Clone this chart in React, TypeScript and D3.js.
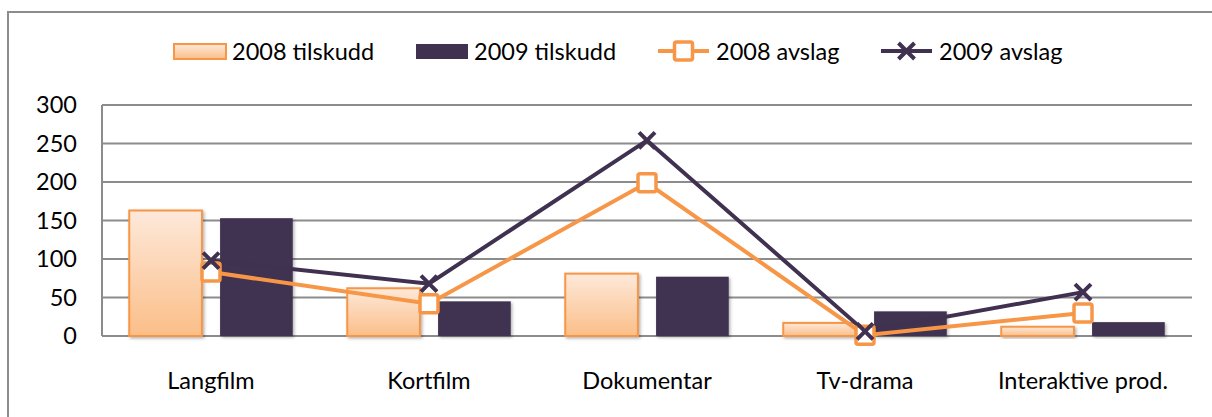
import * as d3 from "d3";

const categories = ["Langfilm", "Kortfilm", "Dokumentar", "Tv-drama", "Interaktive prod."];
const tilskudd2008 = [163, 62, 81, 17, 12];
const tilskudd2009 = [153, 45, 77, 32, 18];
const avslag2008 = [83, 42, 199, 1, 30];
const avslag2009 = [98, 68, 254, 6, 57];
const yTicks = [0, 50, 100, 150, 200, 250, 300];

const orange = "#F79646";
const purple = "#403151";

export default function App() {
  const w = 1212;
  const h = 417;
  const left = 102;
  const right = 1192;
  const top = 105;
  const bottom = 336;

  const x = d3.scaleBand().domain(categories).range([left, right]);
  const inner = d3
    .scaleBand()
    .domain(["a", "b"])
    .range([0, x.bandwidth()])
    .paddingInner(0.2)
    .paddingOuter(0.3);
  const y = d3.scaleLinear().domain([0, 300]).range([bottom, top]);

  const cx = (c: string) => (x(c) as number) + x.bandwidth() / 2;
  const line = d3
    .line<number>()
    .x((_, i) => cx(categories[i]))
    .y((v) => y(v));

  const font = "Lato, 'Open Sans', sans-serif";
  const fs = 23.5;

  const square = (px: number, py: number, key: string | number) => (
    <rect key={key} x={px - 9} y={py - 9} width={18} height={18} rx={2} fill="#fff" stroke={orange} strokeWidth={3.5} />
  );
  const cross = (px: number, py: number, key: string | number) => (
    <path key={key} d={`M${px - 8},${py - 8}L${px + 8},${py + 8}M${px - 8},${py + 8}L${px + 8},${py - 8}`} stroke={purple} strokeWidth={4} />
  );

  return (
    <svg width={w} height={h} style={{ position: "absolute", left: 0, top: 0 }} fontFamily={font}>
      <defs>
        <linearGradient id="og" x1="0" y1="0" x2="0" y2="1">
          <stop offset="0" stopColor="#FDE9DA" />
          <stop offset="1" stopColor="#FBBE88" />
        </linearGradient>
        <filter id="sh" x="-10%" y="-10%" width="130%" height="130%">
          <feDropShadow dx="1.5" dy="1.5" stdDeviation="1.5" floodColor="#000" floodOpacity="0.3" />
        </filter>
      </defs>
      <rect x={0} y={0} width={w} height={h} fill="#fff" />
      {/* outer frame */}
      <path d={`M8,${h}V12H${w}`} fill="none" stroke="#8c8c8c" strokeWidth={2} />

      {/* legend */}
      <g fontSize={fs} fill="#000">
        <rect x={174} y={44} width={52} height={15} fill="url(#og)" stroke={orange} strokeWidth={2} />
        <text x={232} y={60}>2008 tilskudd</text>
        <rect x={416} y={44} width={52} height={15} fill={purple} />
        <text x={474} y={60}>2009 tilskudd</text>
        <line x1={658} x2={709} y1={51} y2={51} stroke={orange} strokeWidth={4} />
        {square(683.5, 51, "ls")}
        <text x={716} y={60}>2008 avslag</text>
        <line x1={881} x2={932} y1={51} y2={51} stroke={purple} strokeWidth={4} />
        {cross(906.5, 51, "lc")}
        <text x={939} y={60}>2009 avslag</text>
      </g>

      {/* grid */}
      {yTicks.map((t) => (
        <g key={t}>
          <line x1={left} x2={right} y1={y(t)} y2={y(t)} stroke="#8c8c8c" strokeWidth={2} />
          <text x={77} y={y(t) + 8} textAnchor="end" fontSize={fs}>
            {t}
          </text>
        </g>
      ))}
      <line x1={left} x2={left} y1={top} y2={bottom} stroke="#8c8c8c" strokeWidth={2} />

      {/* bars */}
      {categories.map((c, i) => (
        <g key={c} filter="url(#sh)">
          <rect
            x={(x(c) as number) + (inner("a") as number)}
            y={y(tilskudd2008[i])}
            width={inner.bandwidth()}
            height={bottom - y(tilskudd2008[i])}
            fill="url(#og)"
            stroke={orange}
            strokeWidth={2}
          />
          <rect
            x={(x(c) as number) + (inner("b") as number)}
            y={y(tilskudd2009[i])}
            width={inner.bandwidth()}
            height={bottom - y(tilskudd2009[i])}
            fill={purple}
          />
        </g>
      ))}

      {/* lines */}
      <path d={line(avslag2009) || ""} fill="none" stroke={purple} strokeWidth={4} />
      <path d={line(avslag2008) || ""} fill="none" stroke={orange} strokeWidth={4} />
      {avslag2008.map((v, i) => square(cx(categories[i]), y(v), "s" + i))}
      {avslag2009.map((v, i) => cross(cx(categories[i]), y(v), "c" + i))}

      {/* category labels */}
      {categories.map((c) => (
        <text key={c} x={cx(c)} y={389} textAnchor="middle" fontSize={fs}>
          {c}
        </text>
      ))}
    </svg>
  );
}
